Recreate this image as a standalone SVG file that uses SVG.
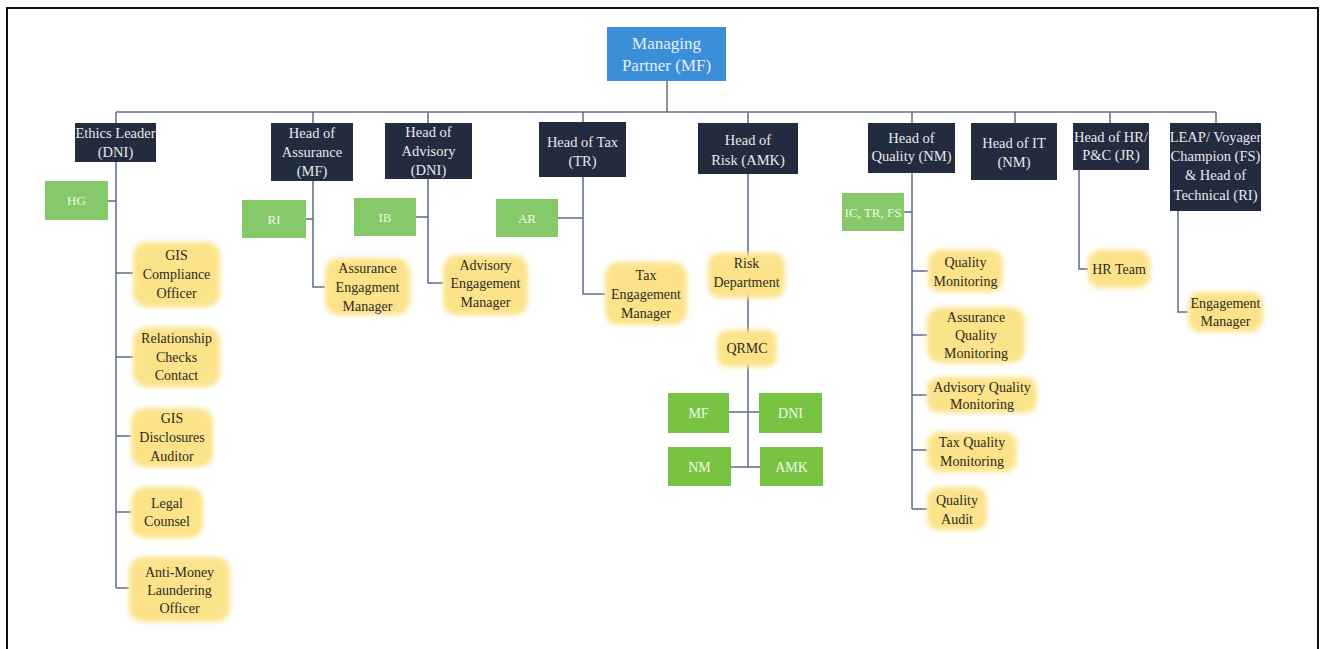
<svg xmlns="http://www.w3.org/2000/svg" width="1320" height="649" viewBox="0 0 1320 649">
<defs>
<filter id="glow" x="-20%" y="-20%" width="140%" height="140%">
<feGaussianBlur in="SourceGraphic" stdDeviation="2.5"/>
</filter>
<style>
.dark rect{fill:#222c3e;}
.dark text{fill:#e8e8ec;font-family:"Liberation Serif",serif;font-size:14.5px;text-anchor:middle;}
.mp rect{fill:#3a8fd8;}
.mp text{fill:#e6eef8;font-family:"Liberation Serif",serif;font-size:17px;text-anchor:middle;}
.yel rect{fill:#fce38a;filter:url(#glow);}
.yel text{fill:#2e2a22;font-family:"Liberation Serif",serif;font-size:14px;text-anchor:middle;}
.grn rect{fill:#86c96a;}
.grn text{fill:#eef7e8;font-family:"Liberation Serif",serif;font-size:13px;text-anchor:middle;}
.grn2 rect{fill:#78c442;}
.grn2 text{fill:#f0f8ea;font-family:"Liberation Serif",serif;font-size:14px;text-anchor:middle;}
.conn{fill:none;stroke:#5c6b8c;stroke-width:1.5;}
.bus{fill:none;stroke:#6a6f78;stroke-width:1.5;}
</style>
</defs>
<rect x="0" y="0" width="1320" height="649" fill="#ffffff"/>
<rect x="7" y="8" width="1311" height="670" fill="#ffffff" stroke="#111" stroke-width="2"/>

<g id="connectors">
<path class="bus" d="M667 81V112M116 112H1216M116 112V123M313 112V123M428 112V123M583 112V122M748 112V123M912 112V123M1015 112V123M1110 112V123M1216 112V123"/>
<path class="conn" d="M116 162V588M108 201H116M116 273H133M116 357H133M116 436H131M116 512H131M116 588H129"/>
<path class="conn" d="M313 181V287H325M306 219H313"/>
<path class="conn" d="M428 179V283H443M416 217H428"/>
<path class="conn" d="M583 177V294H605M558 218H583"/>
<path class="conn" d="M748 174V467M729 412H759M731 467H760"/>
<path class="conn" d="M912 173V509M904 212H912M912 271H928M912 335H927M912 395H927M912 450H927M912 509H927"/>
<path class="conn" d="M1079 170V269H1088"/>
<path class="conn" d="M1178 211V312H1188"/>
</g>

<g id="managing-partner" class="mp"><rect x="607" y="27" width="119" height="54"/><text x="666.5" y="49">Managing</text><text x="666.5" y="71">Partner (MF)</text></g>

<g id="ethics-leader" class="dark"><rect x="75" y="123" width="81" height="39"/><text x="115.5" y="138">Ethics Leader</text><text x="115.5" y="157">(DNI)</text></g>
<g id="head-assurance" class="dark"><rect x="271" y="123" width="82" height="58"/><text x="312" y="138">Head of</text><text x="312" y="157">Assurance</text><text x="312" y="176">(MF)</text></g>
<g id="head-advisory" class="dark"><rect x="385" y="123" width="87" height="56"/><text x="428.5" y="137">Head of</text><text x="428.5" y="156">Advisory</text><text x="428.5" y="175">(DNI)</text></g>
<g id="head-tax" class="dark"><rect x="539" y="122" width="87" height="55"/><text x="582.5" y="147">Head of Tax</text><text x="582.5" y="166">(TR)</text></g>
<g id="head-risk" class="dark"><rect x="698" y="123" width="100" height="51"/><text x="748" y="145">Head of</text><text x="748" y="165">Risk (AMK)</text></g>
<g id="head-quality" class="dark"><rect x="868" y="123" width="87" height="50"/><text x="911.5" y="143">Head  of</text><text x="911.5" y="161">Quality (NM)</text></g>
<g id="head-it" class="dark"><rect x="971" y="123" width="86" height="57"/><text x="1014" y="148">Head of IT</text><text x="1014" y="167">(NM)</text></g>
<g id="head-hr" class="dark"><rect x="1073" y="123" width="76" height="47"/><text x="1111" y="142">Head of HR/</text><text x="1111" y="160">P&amp;C (JR)</text></g>
<g id="leap" class="dark"><rect x="1170" y="123" width="91" height="88"/><text x="1215.5" y="142">LEAP/ Voyager</text><text x="1215.5" y="161">Champion (FS)</text><text x="1215.5" y="180">&amp; Head of</text><text x="1215.5" y="200">Technical (RI)</text></g>

<g id="g-ethics" class="grn"><rect x="45" y="181" width="63" height="39"/><text x="76.5" y="205">HG</text></g>
<g id="g-assurance" class="grn"><rect x="242" y="200" width="64" height="38"/><text x="274" y="224">RI</text></g>
<g id="g-advisory" class="grn"><rect x="354" y="198" width="62" height="38"/><text x="385" y="222">IB</text></g>
<g id="g-tax" class="grn"><rect x="496" y="199" width="62" height="38"/><text x="527" y="223">AR</text></g>
<g id="g-quality" class="grn"><rect x="842" y="193" width="62" height="38"/><text x="873" y="217">IC, TR, FS</text></g>

<g id="gis-compliance" class="yel"><rect x="133" y="242" width="87" height="65" rx="14"/><text x="176.5" y="260">GIS</text><text x="176.5" y="279">Compliance</text><text x="176.5" y="298">Officer</text></g>
<g id="relationship" class="yel"><rect x="133" y="327" width="87" height="60" rx="14"/><text x="176.5" y="343">Relationship</text><text x="176.5" y="362">Checks</text><text x="176.5" y="380">Contact</text></g>
<g id="gis-disclosures" class="yel"><rect x="131" y="408" width="82" height="59" rx="14"/><text x="172" y="423">GIS</text><text x="172" y="442">Disclosures</text><text x="172" y="461">Auditor</text></g>
<g id="legal" class="yel"><rect x="131" y="487" width="72" height="51" rx="14"/><text x="167" y="508">Legal</text><text x="167" y="526">Counsel</text></g>
<g id="aml" class="yel"><rect x="129" y="557" width="101" height="65" rx="14"/><text x="179.5" y="577">Anti-Money</text><text x="179.5" y="595">Laundering</text><text x="179.5" y="613">Officer</text></g>

<g id="assurance-em" class="yel"><rect x="325" y="258" width="85" height="57" rx="14"/><text x="367.5" y="273">Assurance</text><text x="367.5" y="292">Engagment</text><text x="367.5" y="311">Manager</text></g>
<g id="advisory-em" class="yel"><rect x="443" y="255" width="85" height="60" rx="14"/><text x="485.5" y="270">Advisory</text><text x="485.5" y="288">Engagement</text><text x="485.5" y="307">Manager</text></g>
<g id="tax-em" class="yel"><rect x="605" y="262" width="82" height="63" rx="14"/><text x="646" y="280">Tax</text><text x="646" y="299">Engagement</text><text x="646" y="318">Manager</text></g>

<g id="risk-dept" class="yel"><rect x="708" y="253" width="77" height="45" rx="12"/><text x="746.5" y="268">Risk</text><text x="746.5" y="287">Department</text></g>
<g id="qrmc" class="yel"><rect x="717" y="330" width="60" height="37" rx="10"/><text x="747" y="353">QRMC</text></g>
<g id="q-mf" class="grn2"><rect x="668" y="393" width="61" height="40"/><text x="698.5" y="418">MF</text></g>
<g id="q-dni" class="grn2"><rect x="759" y="393" width="63" height="40"/><text x="790.5" y="418">DNI</text></g>
<g id="q-nm" class="grn2"><rect x="668" y="447" width="63" height="39"/><text x="699.5" y="472">NM</text></g>
<g id="q-amk" class="grn2"><rect x="760" y="447" width="63" height="39"/><text x="791.5" y="472">AMK</text></g>

<g id="quality-monitoring" class="yel"><rect x="928" y="250" width="75" height="42" rx="12"/><text x="965.5" y="267">Quality</text><text x="965.5" y="286">Monitoring</text></g>
<g id="assurance-qm" class="yel"><rect x="927" y="307" width="98" height="56" rx="14"/><text x="976" y="322">Assurance</text><text x="976" y="340">Quality</text><text x="976" y="358">Monitoring</text></g>
<g id="advisory-qm" class="yel"><rect x="927" y="377" width="110" height="36" rx="12"/><text x="982" y="392">Advisory Quality</text><text x="982" y="409">Monitoring</text></g>
<g id="tax-qm" class="yel"><rect x="927" y="432" width="90" height="40" rx="12"/><text x="972" y="447">Tax Quality</text><text x="972" y="466">Monitoring</text></g>
<g id="quality-audit" class="yel"><rect x="927" y="487" width="60" height="43" rx="12"/><text x="957" y="505">Quality</text><text x="957" y="524">Audit</text></g>

<g id="hr-team" class="yel"><rect x="1088" y="250" width="62" height="38" rx="12"/><text x="1119" y="274">HR Team</text></g>
<g id="engagement-manager" class="yel"><rect x="1188" y="292" width="75" height="40" rx="12"/><text x="1225.5" y="308">Engagement</text><text x="1225.5" y="326">Manager</text></g>
</svg>
